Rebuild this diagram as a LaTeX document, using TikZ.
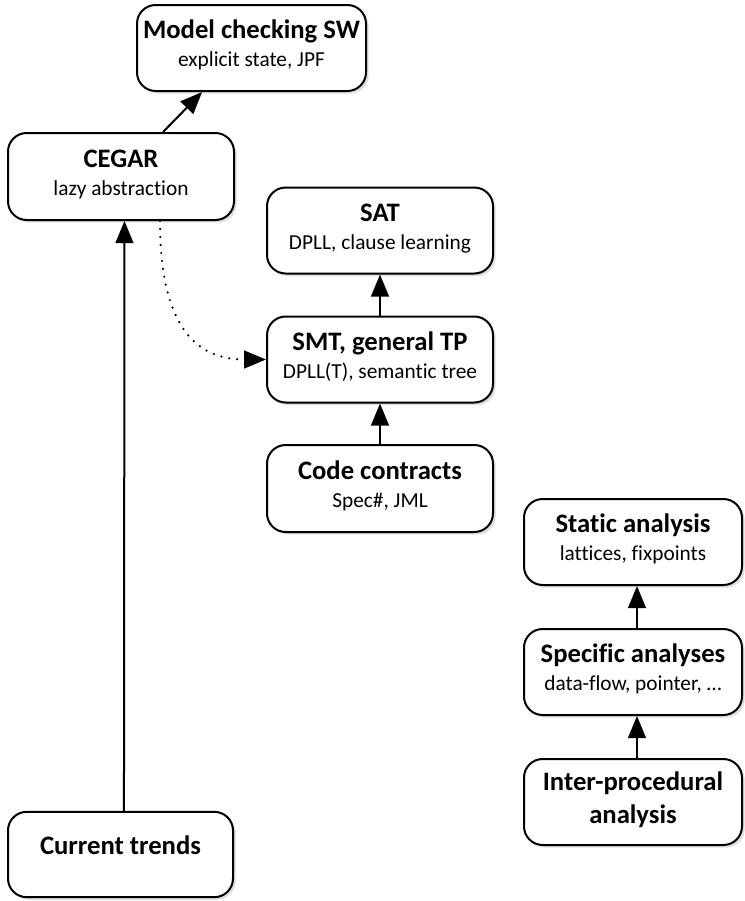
\documentclass[tikz,border=0pt]{standalone}
\usepackage{fontspec}
\setmainfont{Carlito}[Ligatures=NoCommon]
\usetikzlibrary{arrows.meta,shadows}
\begin{document}
\begin{tikzpicture}[x=0.75pt,y=-0.75pt,
  box/.style={draw=black, line width=1.5pt, rounded corners=14pt, fill=white,
    inner sep=0pt, minimum width=169.5pt, minimum height=64.5pt,
    drop shadow={shadow xshift=2pt, shadow yshift=-2pt, fill=black!25}},
  ttl/.style={anchor=base, inner sep=0pt, font=\fontsize{20}{24}\selectfont\bfseries},
  sub/.style={anchor=base, inner sep=0pt, font=\fontsize{16}{20}\selectfont},
  arr/.style={line width=1.5pt, -{Triangle[length=16.5pt,width=13.3pt]}},
  dotarr/.style={line width=1.8pt, dash pattern=on 0pt off 6pt, line cap=round,
    -{Triangle[length=16.5pt,width=13.3pt]}}]
\useasboundingbox (0,0) rectangle (744,901);

% boxes
\node[box, minimum width=171.75pt] (mc) at (251.5,48) {};
\node[box, minimum height=65.25pt] (cegar) at (121,176.5) {};
\node[box] (sat) at (380,230.5) {};
\node[box] (smt) at (380,359.5) {};
\node[box, minimum height=65.25pt] (code) at (380,488.5) {};
\node[box, minimum width=163.5pt] (static) at (633,542) {};
\node[box, minimum width=163.5pt] (spec) at (633,672) {};
\node[box, minimum width=163.5pt] (inter) at (633,802) {};
\node[box, minimum width=168.75pt, minimum height=64pt] (cur) at (120.5,854.5) {};

% texts
\node[ttl] (mc-t) at ([yshift=7pt]mc.center) {Model checking SW};
\node[sub] (mc-s) at ([yshift=-14pt]mc.center) {explicit state, JPF};
\node[ttl] (cegar-t) at ([yshift=7pt]cegar.center) {CEGAR};
\node[sub] (cegar-s) at ([yshift=-14pt]cegar.center) {lazy abstraction};
\node[ttl] (sat-t) at ([yshift=7pt]sat.center) {SAT};
\node[sub] (sat-s) at ([yshift=-14pt]sat.center) {DPLL, clause learning};
\node[ttl] (smt-t) at ([yshift=7pt]smt.center) {SMT, general TP};
\node[sub] (smt-s) at ([yshift=-14pt]smt.center) {DPLL(T), semantic tree};
\node[ttl] (code-t) at ([yshift=7pt]code.center) {Code contracts};
\node[sub] (code-s) at ([yshift=-14pt]code.center) {Spec\#, JML};
\node[ttl] (static-t) at ([yshift=7pt]static.center) {Static analysis};
\node[sub] (static-s) at ([yshift=-14pt]static.center) {lattices, fixpoints};
\node[ttl] (spec-t) at ([yshift=7pt]spec.center) {Specific analyses};
\node[sub] (spec-s) at ([yshift=-14pt]spec.center) {data-flow, pointer, \dots};
\node[ttl] (inter-t) at ([yshift=9pt]inter.center) {Inter-procedural};
\node[ttl] (inter-s) at ([yshift=-15.75pt]inter.center) {analysis};
\node[ttl] (cur-t) at ([yshift=0pt]cur.center) {Current trends};

% connectors
\draw[arr] ([xshift=31.5pt]cegar.north) -- ([xshift=-37pt]mc.south);
\draw[arr] ([xshift=2.6pt]cur.north) -- ([xshift=2.6pt]cegar.south);
\draw[arr] (smt.north) -- (sat.south);
\draw[arr] (code.north) -- (smt.south);
\draw[arr] ([xshift=3pt]spec.north) -- ([xshift=3pt]static.south);
\draw[arr] ([xshift=3pt]inter.north) -- ([xshift=3pt]spec.south);
\draw[dotarr] ([xshift=29.25pt]cegar.south) .. controls +(0,110) and +(-67,0) .. (smt.west);
\end{tikzpicture}
\end{document}
